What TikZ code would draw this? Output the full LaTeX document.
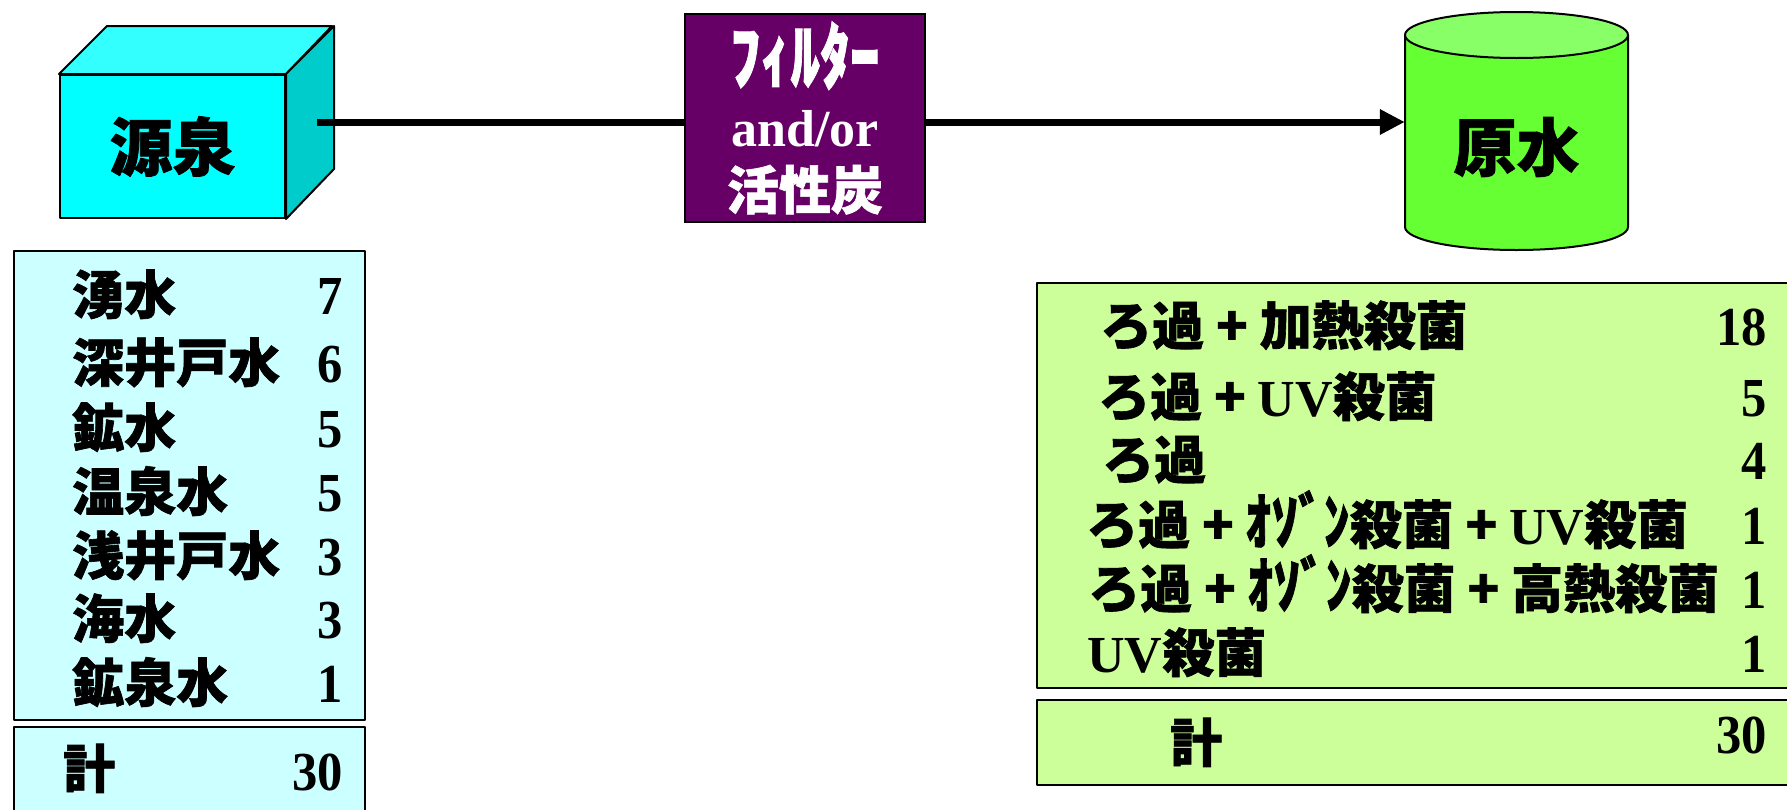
\documentclass[tikz,border=0pt]{standalone}
\usepackage{fontspec}
\setmainfont{Liberation Serif}
\newfontfamily\jp{Noto Sans CJK JP}[BoldFeatures={FakeBold=1.2}]
\newfontfamily\numfont{Liberation Serif}[FakeStretch=0.92]
\usetikzlibrary{arrows.meta}
\definecolor{cubefront}{HTML}{00FFFF}
\definecolor{cubetop}{HTML}{33FFFF}
\definecolor{cubeside}{HTML}{00CCCC}
\definecolor{filterfill}{HTML}{660066}
\definecolor{tankbody}{HTML}{66FF33}
\definecolor{tanktop}{HTML}{88FF66}
\definecolor{leftfill}{HTML}{CCFFFF}
\definecolor{rightfill}{HTML}{CCFF99}
\newcommand\hk[1]{\scalebox{1.15}[1.4]{#1}}
\newcommand\hkn[1]{\scalebox{1.0}[1.2]{#1}}
\begin{document}
\begin{tikzpicture}[x=1pt,y=-1pt,
  outline/.style={draw=black,line width=2pt,line join=round},
  conn/.style={line width=7pt},
  big/.style={font=\jp\bfseries\fontsize{63}{70}\selectfont, inner sep=0pt},
  cell/.style={font=\bfseries\fontsize{52}{60}\selectfont, inner sep=0pt, text height=45pt, text depth=7pt},
  num/.style={font=\numfont\bfseries\fontsize{55}{60}\selectfont, inner sep=0pt, text height=45pt, text depth=7pt, anchor=east},
  tabbox/.style={outline, inner sep=0pt},
]
\clip (0,0) rectangle (1787,809);
\fill[white] (0,0) rectangle (1787,809);

% source cube
\node[tabbox, fill=cubefront, minimum width=225pt, minimum height=143pt, big] (src) at (172.5,146.5) {源泉};
\filldraw[outline, fill=cubetop] (src.north west) -- ++(48,-48) -- ++(225,0) -- (src.north east) -- cycle;
\filldraw[outline, fill=cubeside] (src.north east) -- ++(48,-48) -- ++(0,143) -- (src.south east) -- cycle;
\coordinate (srcout) at (317,122);

% filter
\node[draw=black, line width=1.5pt, fill=filterfill, minimum width=240pt, minimum height=208pt,
      text=white, align=center, font=\bfseries\fontsize{52}{63}\selectfont] (filter) at (805,118)
      {{\jp\hk{ﾌｨﾙﾀｰ}}\\and/or\\{\jp 活性炭}};

% tank
\fill[tankbody] (1405,35) -- (1405,227) arc[start angle=180,end angle=0,x radius=111.5,y radius=23] -- (1628,35) -- cycle;
\draw[outline] (1405,35) -- (1405,227) arc[start angle=180,end angle=0,x radius=111.5,y radius=23] -- (1628,35);
\filldraw[outline, fill=tanktop] (1516.5,35) ellipse[x radius=111.5, y radius=23];
\node[big, minimum width=223pt] (tank) at (1516.5,147) {原水};

% connectors
\draw[conn] (srcout) -- (srcout -| filter.west);
\draw[conn, -{Triangle[length=25pt,width=24pt]}] (srcout -| filter.east) -- (srcout -| tank.west);

% left table
\node[tabbox, fill=leftfill, minimum width=351pt, minimum height=469pt] (lefttab) at (189.5,485.5) {};
\node[tabbox, fill=leftfill, minimum width=351pt, minimum height=88pt] (lefttot) at (189.5,771) {};
\node[cell, anchor=west] (l1) at (72,295) {\jp 湧水};
\node[cell, anchor=west] (l2) at (72,363) {\jp 深井戸水};
\node[cell, anchor=west] (l3) at (72,428) {\jp 鉱水};
\node[cell, anchor=west] (l4) at (72,492) {\jp 温泉水};
\node[cell, anchor=west] (l5) at (72,556) {\jp 浅井戸水};
\node[cell, anchor=west] (l6) at (72,619) {\jp 海水};
\node[cell, anchor=west] (l7) at (72,683) {\jp 鉱泉水};
\node[num] (n1) at (343,295) {7};
\node[num] (n2) at (343,363) {6};
\node[num] (n3) at (343,428) {5};
\node[num] (n4) at (343,492) {5};
\node[num] (n5) at (343,556) {3};
\node[num] (n6) at (343,619) {3};
\node[num] (n7) at (343,683) {1};
\node[cell, anchor=west] (lt) at (63,769) {\jp 計};
\node[num] (nt) at (343,771) {30};

% right table
\node[tabbox, fill=rightfill, minimum width=763pt, minimum height=405pt] (righttab) at (1418.5,485.5) {};
\node[tabbox, fill=rightfill, minimum width=763pt, minimum height=85pt] (righttot) at (1418.5,742.5) {};
\node[cell, anchor=west] (r1) at (1100,326) {{\jp ろ過 + 加熱殺菌}};
\node[cell, anchor=west] (r2) at (1098,397) {{\jp ろ過 + }UV{\jp 殺菌}};
\node[cell, anchor=west] (r3) at (1102,460) {{\jp ろ過}};
\node[cell, anchor=west] (r4) at (1086,525) {{\jp ろ過 + \hkn{ｵｿﾞﾝ}殺菌 + }UV{\jp 殺菌}};
\node[cell, anchor=west] (r5) at (1088,589) {{\jp ろ過 + \hkn{ｵｿﾞﾝ}殺菌 + 高熱殺菌}};
\node[cell, anchor=west] (r6) at (1087,653) {UV{\jp 殺菌}};
\node[num] (m1) at (1767,326) {18};
\node[num] (m2) at (1767,397) {5};
\node[num] (m3) at (1767,460) {4};
\node[num] (m4) at (1767,525) {1};
\node[num] (m5) at (1767,589) {1};
\node[num] (m6) at (1767,653) {1};
\node[cell, anchor=west] (rt) at (1170,743) {\jp 計};
\node[num] (mt) at (1767,734) {30};
\end{tikzpicture}
\end{document}
